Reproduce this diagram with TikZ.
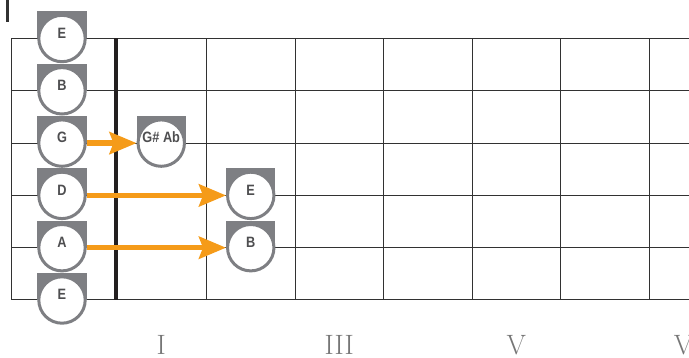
\documentclass[tikz,border=0pt]{standalone}
\usepackage{fontspec}
\newfontfamily\notefont[FakeStretch=0.85]{Liberation Sans}
\usetikzlibrary{arrows.meta}
\definecolor{markgray}{RGB}{126,127,131}
\definecolor{notetxt}{RGB}{78,78,80}
\definecolor{arroworange}{RGB}{245,155,25}
\definecolor{gridline}{RGB}{50,50,50}
\definecolor{nutblack}{RGB}{35,31,32}
\definecolor{numgray}{RGB}{118,118,118}
\newcommand\NoteMark[4]{%
  \fill[markgray] (#2-24.7,#3-27) rectangle (#2+24.7,#3);
  \node[notecirc] (#1) at (#2,#3) {};
  \node[notetext] (#1t) at ([yshift=5.5pt]#1.center) {#4};
}
\begin{document}
\begin{tikzpicture}[x=1pt,y=-1pt,
  notecirc/.style={circle, draw=markgray, fill=white, line width=3pt, minimum size=46.4pt, inner sep=0pt},
  notetext/.style={inner sep=0pt, text=notetxt, font=\notefont\bfseries\fontsize{15}{17}\selectfont},
  gridln/.style={draw=gridline, line width=1pt},
  nutln/.style={draw=nutblack, line width=4.5pt},
  arr/.style={draw=arroworange, line width=5.5pt, -{Stealth[length=27pt,width=22pt,inset=4pt,fill=arroworange]}},
  numeral/.style={text=numgray, anchor=base, inner sep=0pt, font=\fontsize{28}{30}\selectfont}
]
\useasboundingbox (0,0) rectangle (689,358);
% top-left mark
\draw[draw=gridline, line width=2.5pt] (7.5,0) -- (7.5,22);
% strings
\foreach \y in {38.5,90.8,143.1,195.4,247.7,300}
  \draw[gridln] (11,\y) -- (689,\y);
% left border
\draw[gridln] (11,38.5) -- (11,300);
% frets
\foreach \x in {206.5,295,383.5,472,560.5,649}
  \draw[gridln] (\x,38.5) -- (\x,300);
% nut
\draw[nutln] (116,38.5) -- (116,300);
% open string markers
\NoteMark{o1}{62}{38.5}{E}
\NoteMark{o2}{62}{90.8}{B}
\NoteMark{o3}{62}{143.1}{G}
\NoteMark{o4}{62}{195.4}{D}
\NoteMark{o5}{62}{247.7}{A}
\NoteMark{o6}{62}{300}{E}
% fretted markers
\NoteMark{f1}{161.25}{143.1}{G\# Ab}
\NoteMark{f2}{250.75}{195.4}{E}
\NoteMark{f3}{250.75}{247.7}{B}
% arrows
\draw[arr] (o3.east) -- (f1.west);
\draw[arr] (o4.east) -- (f2.west);
\draw[arr] (o5.east) -- (f3.west);
% fret numerals
\node[numeral] (n1) at (161.25,355) {I};
\node[numeral] (n3) at (339.25,355) {III};
\node[numeral] (n5) at (516.25,355) {V};
\node[numeral] (n7) at (693,355) {VII};
\end{tikzpicture}
\end{document}
